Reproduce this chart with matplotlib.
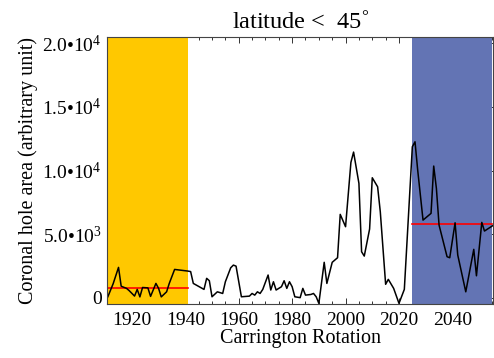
import numpy as np
import matplotlib
matplotlib.use("Agg")
import matplotlib.pyplot as plt
from matplotlib.ticker import MultipleLocator, FuncFormatter

plt.rcParams['font.family'] = ['Liberation Serif', 'DejaVu Serif']
plt.rcParams['mathtext.fontset'] = 'custom'
plt.rcParams['mathtext.rm'] = 'Liberation Serif'
plt.rcParams['mathtext.it'] = 'Liberation Serif:italic'

# Carrington rotation / coronal hole area
rotation = [1911, 1913, 1915, 1916, 1918, 1919, 1921, 1922, 1923, 1924,
            1926, 1927, 1929, 1930, 1931, 1933, 1934, 1936, 1941, 1942,
            1943, 1947, 1948, 1949, 1950, 1952, 1954, 1955, 1957, 1958,
            1959, 1961, 1964, 1965, 1966, 1967, 1968, 1969, 1971, 1972,
            1973, 1974, 1976, 1977, 1978, 1979, 1980, 1981, 1983, 1984,
            1985, 1987, 1988, 1989, 1990, 1992, 1993, 1995, 1997, 1998,
            2000, 2002, 2003, 2005, 2006, 2007, 2009, 2010, 2012, 2013,
            2015, 2016, 2018, 2020, 2022, 2025, 2026, 2027, 2029, 2032,
            2033, 2034, 2035, 2038, 2039, 2041, 2042, 2045, 2048, 2049,
            2051, 2052, 2055]
area = [70, 1100, 2380, 900, 730, 550, 125, 650, 60, 800,
        770, 100, 1120, 730, 60, 460, 1120, 2220, 2090, 2050,
        1120, 650, 1520, 1330, 70, 460, 330, 1250, 2350, 2560,
        2480, 70, 120, 330, 200, 460, 330, 650, 1780, 600,
        1250, 600, 860, 1330, 730, 1250, 860, 70, 0, 730,
        200, 250, 330, 70, -450, 2780, 1120, 2780, 3140, 6550,
        5580, 10640, 11450, 8990, 3610, 3270, 5400, 9430, 8720, 6760,
        1050, 1440, 730, -450, 650, 11870, 12260, 10040, 6100, 6630,
        10350, 8600, 5710, 3220, 3140, 5890, 3350, 460, 3800, 1720,
        5920, 5240, 5650]

# shaded periods and their mean level
period_start = [1911, 2025]
period_end = [1941, 2055]
period_mean = [750, 5790]
period_color = ['#FFC800', '#6374B4']


def sci_label(v, pos):
    if v == 0:
        return '0'
    e = int(np.floor(np.log10(abs(v))))
    return '%.1f•10$^{%d}$' % (v / 10**e, e)


fig = plt.figure(figsize=(4.94, 3.58), dpi=100)
ax = fig.add_axes([0.2172, 0.1508, 0.7808, 0.7458])

for s, e, m, c in zip(period_start, period_end, period_mean, period_color):
    ax.axvspan(s, e, color=c, lw=0, zorder=2.6)
    ax.plot([s, e], [m, m], color='red', lw=1.2, zorder=4)

ax.plot(rotation, area, color='black', lw=1.1, zorder=5)

ax.set_xlim(1910.8, 2055.2)
ax.set_ylim(-500, 20500)
ax.xaxis.set_major_locator(MultipleLocator(20))
ax.xaxis.set_minor_locator(MultipleLocator(5))
ax.yaxis.set_major_locator(MultipleLocator(5000))
ax.yaxis.set_major_formatter(FuncFormatter(sci_label))
ax.tick_params(which='both', direction='in', top=True, right=True,
               width=0.7, color='#333333', labelsize=14)
ax.tick_params(which='major', length=4.5)
ax.tick_params(which='minor', length=2.4)
ax.tick_params(axis='x', pad=6)
ax.tick_params(axis='y', pad=4)
for sp in ax.spines.values():
    sp.set_linewidth(0.8)
    sp.set_color('#444444')
    sp.set_zorder(6)

ax.set_xlabel('Carrington Rotation', fontsize=14.5, labelpad=0)
ax.set_ylabel('Coronal hole area (arbitrary unit)', fontsize=14.5, labelpad=3)
ax.set_title('latitude <  45$^{°}$', fontsize=17.5, pad=6)

plt.savefig('out.png', dpi=100)
